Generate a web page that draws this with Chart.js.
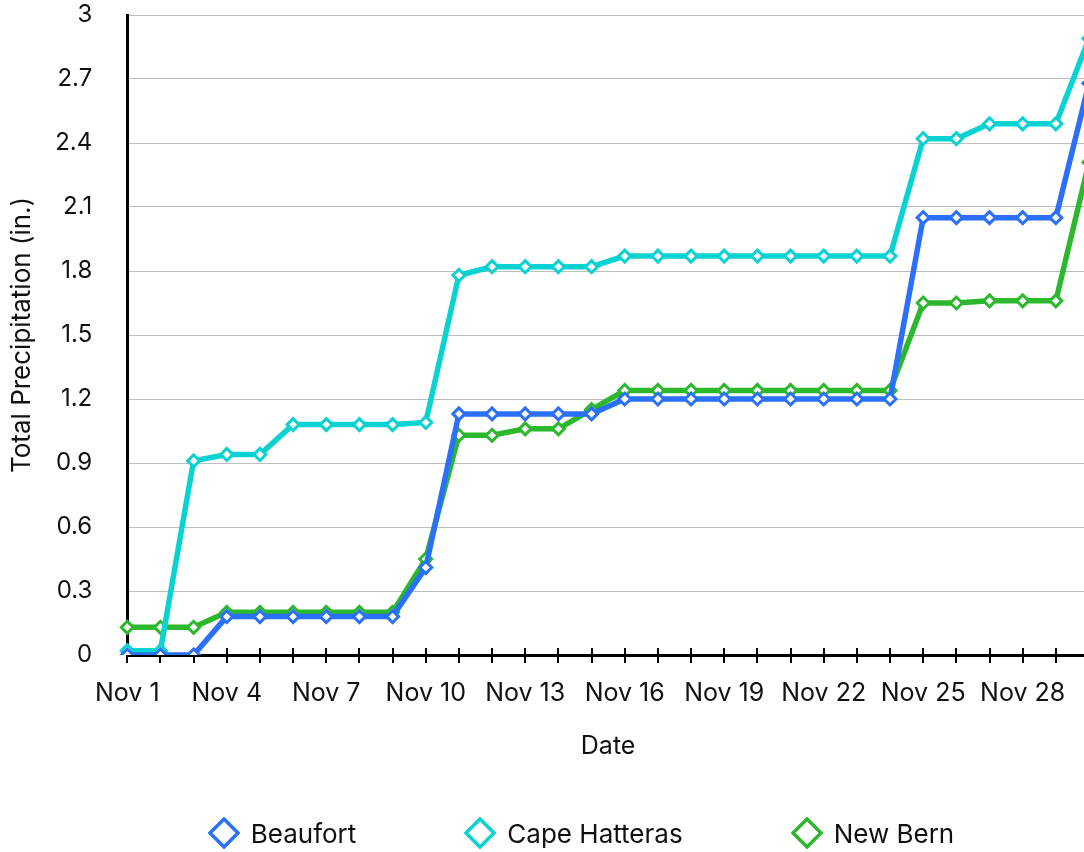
<!DOCTYPE html>
<html>
<head>
<meta charset="utf-8">
<script src="https://cdn.jsdelivr.net/npm/chart.js@4"></script>
<style>
  html, body { margin: 0; padding: 0; background: #fff; overflow: hidden; }
  #wrap { position: relative; width: 1162px; height: 852px; }
  #legend {
    position: absolute; left: 0; top: 817px; width: 1162px;
    display: flex; justify-content: center; gap: 108px;
    font-family: Inter, sans-serif; font-size: 26px; color: #111;
  }
  #legend .item { display: flex; align-items: center; gap: 11px; }
  #legend svg { display: block; }
</style>
</head>
<body>
<div id="wrap">
  <canvas id="precip" width="1162" height="852"></canvas>
  <div id="legend"></div>
</div>
<script>
// November daily cumulative totals, inches
const days = ['Nov 1', 'Nov 2', 'Nov 3', 'Nov 4', 'Nov 5', 'Nov 6', 'Nov 7', 'Nov 8', 'Nov 9', 'Nov 10',
  'Nov 11', 'Nov 12', 'Nov 13', 'Nov 14', 'Nov 15', 'Nov 16', 'Nov 17', 'Nov 18', 'Nov 19', 'Nov 20',
  'Nov 21', 'Nov 22', 'Nov 23', 'Nov 24', 'Nov 25', 'Nov 26', 'Nov 27', 'Nov 28', 'Nov 29', 'Nov 30'];

const beaufort = [0, 0, 0, 0.18, 0.18, 0.18, 0.18, 0.18, 0.18, 0.41,
  1.13, 1.13, 1.13, 1.13, 1.13, 1.2, 1.2, 1.2, 1.2, 1.2,
  1.2, 1.2, 1.2, 1.2, 2.05, 2.05, 2.05, 2.05, 2.05, 2.68];

const capeHatteras = [0.02, 0.02, 0.91, 0.94, 0.94, 1.08, 1.08, 1.08, 1.08, 1.09,
  1.78, 1.82, 1.82, 1.82, 1.82, 1.87, 1.87, 1.87, 1.87, 1.87,
  1.87, 1.87, 1.87, 1.87, 2.42, 2.42, 2.49, 2.49, 2.49, 2.89];

const newBern = [0.13, 0.13, 0.13, 0.2, 0.2, 0.2, 0.2, 0.2, 0.2, 0.45,
  1.03, 1.03, 1.06, 1.06, 1.15, 1.24, 1.24, 1.24, 1.24, 1.24,
  1.24, 1.24, 1.24, 1.24, 1.65, 1.65, 1.66, 1.66, 1.66, 2.31];

const yTicks = [0, 0.3, 0.6, 0.9, 1.2, 1.5, 1.8, 2.1, 2.4, 2.7, 3];

const FONT = 'Inter, sans-serif';

function series(label, data, color) {
    return {
        label: label,
        data: data,
        borderColor: color,
        backgroundColor: color,
        borderWidth: 5.5,
        pointStyle: 'rectRot',
        pointRadius: 6,
        pointBorderWidth: 3,
        pointBackgroundColor: '#fff',
        pointBorderColor: color,
        tension: 0
    };
}

// tick padding otherwise pushes the chart area in, we set the layout by hand
const noScalePadding = (s) => {
    s.paddingTop = 0; s.paddingBottom = 0;
    s.paddingLeft = 0; s.paddingRight = 0;
};

// tick marks crossing the x axis, under the lines
const crossTicks = {
    id: 'crossTicks',
    beforeDatasetsDraw(chart) {
        const x = chart.scales.x;
        const ctx = chart.ctx;
        ctx.save();
        ctx.strokeStyle = '#000';
        ctx.lineWidth = 2;
        ctx.beginPath();
        x.ticks.forEach((t, i) => {
            const px = Math.round(x.getPixelForTick(i));
            ctx.moveTo(px, x.top - 7);
            ctx.lineTo(px, x.top + 8);
        });
        ctx.stroke();
        ctx.restore();
    }
};

const chart = new Chart(document.getElementById('precip'), {
    type: 'line',
    data: {
        labels: days,
        datasets: [
            series('Beaufort', beaufort, '#2a70fb'),
            series('Cape Hatteras', capeHatteras, '#08d2d2'),
            series('New Bern', newBern, '#2cb82c')
        ]
    },
    options: {
        responsive: false,
        animation: false,
        layout: { autoPadding: false, padding: { top: 15, left: 3, right: 73, bottom: 87 } },
        plugins: {
            legend: { display: false },
            tooltip: { enabled: false }
        },
        scales: {
            x: {
                afterFit: noScalePadding,
                grid: { drawOnChartArea: false, drawTicks: false },
                border: { color: '#000', width: 3 },
                ticks: {
                    autoSkip: false,
                    maxRotation: 0,
                    padding: 23,
                    color: '#111',
                    font: { family: FONT, size: 25 },
                    callback: (v, i) => (i % 3 === 0 ? days[i] : '')
                },
                title: {
                    display: true,
                    text: 'Date',
                    color: '#111',
                    font: { family: FONT, size: 25 },
                    padding: { top: 0, bottom: 4 }
                }
            },
            y: {
                min: 0,
                max: 3,
                afterFit: noScalePadding,
                afterBuildTicks: (s) => { s.ticks = yTicks.map(v => ({ value: v })); },
                grid: { color: '#bdbdbd', lineWidth: 1, drawTicks: false },
                border: { color: '#000', width: 3 },
                ticks: {
                    padding: 35,
                    color: '#111',
                    font: { family: FONT, size: 24 },
                    callback: (v) => String(Number(v.toFixed(1)))
                },
                title: {
                    display: true,
                    text: 'Total Precipitation (in.)',
                    color: '#111',
                    font: { family: FONT, size: 26 },
                    padding: { top: 4, bottom: -18 }
                }
            }
        }
    },
    plugins: [crossTicks]
});

// legend built from the datasets
const legend = document.getElementById('legend');
chart.data.datasets.forEach(ds => {
    const item = document.createElement('div');
    item.className = 'item';
    item.innerHTML = '<svg width="32" height="32" viewBox="0 0 32 32">' +
        '<path d="M16 2 L30 16 L16 30 L2 16 Z" fill="#fff" stroke="' + ds.borderColor + '" stroke-width="3.5"/></svg>' +
        '<span>' + ds.label + '</span>';
    legend.appendChild(item);
});
</script>
</body>
</html>
